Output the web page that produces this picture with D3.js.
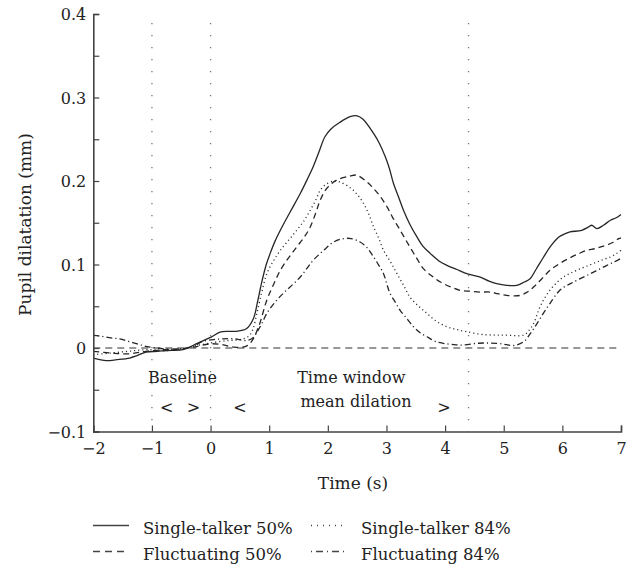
<!DOCTYPE html>
<html><head><meta charset="utf-8">
<script src="https://cdn.jsdelivr.net/npm/d3@7"></script>
<style>
body{margin:0;background:#fff;}
svg text{font-family:"DejaVu Serif","Liberation Serif",serif;fill:#222;}
</style></head>
<body><svg id="c" width="637" height="566"></svg>
<script>
// ---- data ----
const xTicks = [-2,-1,0,1,2,3,4,5,6,7];
const yTicks = [-0.1,0,0.1,0.2,0.3,0.4];
const yMinorTicks = [-0.05,0.05,0.15,0.25,0.35];
const markerLines = [-1,0,4.4];
const seriesNames = ["Single-talker 50%","Single-talker 84%","Fluctuating 50%","Fluctuating 84%"];

const singleTalker50 = [[-2,-0.012],[-1.78,-0.015],[-1.6,-0.014],[-1.38,-0.012],[-1.25,-0.009],[-1.1,-0.005],[-0.9,-0.004],[-0.75,-0.003],[-0.47,-0.002],[-0.3,0.003],[-0.15,0.008],[0.01,0.013],[0.16,0.019],[0.3,0.02],[0.44,0.02],[0.61,0.023],[0.73,0.035],[0.8,0.055],[0.87,0.078],[0.95,0.1],[1.015,0.113],[1.1,0.128],[1.19,0.141],[1.35,0.162],[1.53,0.185],[1.65,0.202],[1.75,0.217],[1.85,0.235],[1.95,0.253],[2.05,0.262],[2.2,0.27],[2.38,0.277],[2.5,0.278],[2.6,0.274],[2.78,0.257],[2.88,0.245],[2.98,0.229],[3.05,0.215],[3.12,0.197],[3.2,0.182],[3.29,0.165],[3.4,0.148],[3.52,0.133],[3.62,0.122],[3.75,0.113],[3.9,0.104],[4.03,0.099],[4.2,0.094],[4.37,0.089],[4.6,0.085],[4.75,0.08],[4.88,0.077],[5.05,0.075],[5.22,0.075],[5.35,0.079],[5.45,0.083],[5.55,0.094],[5.68,0.109],[5.8,0.122],[5.94,0.133],[6.05,0.137],[6.13,0.139],[6.33,0.141],[6.45,0.145],[6.5,0.147],[6.59,0.143],[6.7,0.147],[6.82,0.153],[6.92,0.156],[7.0,0.160]];

const fluctuating50 = [[-2,-0.004],[-1.7,-0.006],[-1.4,-0.007],[-1.1,-0.004],[-0.8,-0.002],[-0.5,-0.001],[-0.3,0.001],[0,0.005],[0.2,0.004],[0.4,0.001],[0.6,0.002],[0.7,0.008],[0.82,0.0255],[0.96,0.0575],[1.08,0.077],[1.19,0.093],[1.33,0.108],[1.47,0.121],[1.6,0.133],[1.7,0.145],[1.8,0.163],[1.87,0.177],[1.98,0.191],[2.15,0.201],[2.38,0.206],[2.49,0.207],[2.65,0.2],[2.78,0.191],[2.9,0.181],[3.01,0.169],[3.1,0.157],[3.2,0.145],[3.3,0.133],[3.4,0.121],[3.52,0.107],[3.63,0.095],[3.78,0.086],[3.92,0.079],[4.1,0.073],[4.26,0.069],[4.43,0.068],[4.6,0.067],[4.77,0.067],[4.9,0.065],[5.05,0.063],[5.28,0.063],[5.4,0.067],[5.51,0.073],[5.65,0.083],[5.79,0.093],[5.95,0.101],[6.13,0.108],[6.28,0.113],[6.42,0.117],[6.56,0.119],[6.7,0.122],[6.85,0.126],[6.96,0.131],[7,0.132]];

const singleTalker84 = [[-2,-0.008],[-1.7,-0.006],[-1.4,-0.004],[-1.1,-0.002],[-0.8,-0.003],[-0.5,-0.002],[-0.3,0.002],[0,0.006],[0.3,0.009],[0.5,0.01],[0.65,0.014],[0.72,0.022],[0.79,0.0415],[0.87,0.066],[0.96,0.089],[1.07,0.104],[1.19,0.117],[1.33,0.129],[1.47,0.141],[1.6,0.153],[1.7,0.165],[1.8,0.178],[1.87,0.189],[1.97,0.196],[2.1,0.2],[2.2,0.199],[2.38,0.192],[2.5,0.184],[2.61,0.173],[2.7,0.16],[2.78,0.145],[2.87,0.131],[2.95,0.117],[3.07,0.103],[3.18,0.089],[3.3,0.074],[3.4,0.061],[3.55,0.05],[3.69,0.0415],[3.85,0.032],[4.03,0.0255],[4.2,0.022],[4.37,0.0195],[4.6,0.0165],[4.8,0.0155],[5.0,0.0155],[5.34,0.0155],[5.43,0.021],[5.51,0.0295],[5.62,0.0495],[5.7,0.06],[5.79,0.0695],[5.9,0.078],[6.02,0.085],[6.15,0.09],[6.31,0.095],[6.45,0.099],[6.59,0.103],[6.7,0.106],[6.82,0.109],[6.92,0.113],[7.0,0.117]];

const fluctuating84 = [[-2,0.015],[-1.85,0.014],[-1.7,0.012],[-1.55,0.011],[-1.4,0.008],[-1.25,0.005],[-1.1,0.002],[-0.8,-0.001],[-0.5,-0.001],[-0.3,0.002],[-0.13,0.008],[0.05,0.01],[0.2,0.011],[0.4,0.011],[0.6,0.009],[0.72,0.012],[0.8,0.02],[0.88,0.03],[0.96,0.0415],[1.1,0.055],[1.24,0.0655],[1.4,0.076],[1.53,0.085],[1.65,0.096],[1.75,0.105],[1.93,0.117],[2.1,0.127],[2.27,0.131],[2.4,0.131],[2.55,0.127],[2.67,0.12],[2.78,0.109],[2.87,0.099],[2.95,0.089],[3.0,0.078],[3.06,0.0655],[3.15,0.055],[3.23,0.0455],[3.35,0.035],[3.46,0.0255],[3.58,0.018],[3.69,0.0135],[3.83,0.008],[3.97,0.0056],[4.15,0.004],[4.31,0.0036],[4.54,0.0056],[4.7,0.006],[4.88,0.0056],[5.05,0.004],[5.17,0.003],[5.34,0.0075],[5.45,0.017],[5.57,0.0295],[5.68,0.042],[5.79,0.0535],[5.96,0.0695],[6.08,0.075],[6.19,0.079],[6.33,0.084],[6.48,0.089],[6.62,0.094],[6.76,0.099],[6.88,0.103],[6.99,0.107]];

// ---- drawing ----
const FONT = '"DejaVu Serif","Liberation Serif",serif';
const svg = d3.select("#c");
const L = 93.3, R = 621, T = 14, B = 431.5;
const x = d3.scaleLinear().domain([-2,7]).range([L,R]);
const y = d3.scaleLinear().domain([-0.1,0.4]).range([B,T]);
const axisColor = "#444";
const fmt = v => (v<0 ? "\u2212" : "") + Math.abs(v).toString();

// vertical dotted marker lines
svg.selectAll(".vm").data(markerLines).enter().append("line")
  .attr("x1",d=>x(d)).attr("x2",d=>x(d)).attr("y1",23).attr("y2",B)
  .attr("stroke","#777").attr("stroke-width",1.3).attr("stroke-dasharray","1.3,10.7");

// zero reference line
svg.append("line").attr("x1",x(-2)).attr("x2",x(7)).attr("y1",y(0)).attr("y2",y(0))
  .attr("stroke","#777").attr("stroke-width",1.6).attr("stroke-dasharray","7,5");

// curves
const line = d3.line().x(d=>x(d[0])).y(d=>y(d[1])).curve(d3.curveCatmullRom.alpha(0.5));
const styles = [
  {data:singleTalker50, dash:null},
  {data:singleTalker84, dash:"1.1,3"},
  {data:fluctuating50, dash:"6,4"},
  {data:fluctuating84, dash:"6,3,1.2,3"}
];
styles.forEach(s=>{
  svg.append("path").attr("d",line(s.data)).attr("fill","none")
    .attr("stroke","#262626").attr("stroke-width",1.3)
    .attr("stroke-dasharray",s.dash);
});

// axes
const yAxis = svg.append("g").attr("transform",`translate(${L},0)`)
  .call(d3.axisLeft(y).tickValues(yTicks).tickSize(-6).tickPadding(7).tickFormat(fmt));
const xAxis = svg.append("g").attr("transform",`translate(0,${B})`)
  .call(d3.axisBottom(x).tickValues(xTicks).tickSize(-6).tickPadding(11).tickFormat(fmt));
svg.append("g").attr("transform",`translate(${L},0)`)
  .call(d3.axisLeft(y).tickValues(yMinorTicks).tickSize(-6).tickFormat(""))
  .select(".domain").remove();
[yAxis,xAxis].forEach(g=>{
  g.select(".domain").attr("stroke",axisColor).attr("stroke-width",1.6);
  g.selectAll(".tick text").style("font-family",FONT).style("font-size","16px").attr("fill","#222");
});
svg.selectAll(".tick line").attr("stroke",axisColor).attr("stroke-width",1.2);
yAxis.selectAll(".tick text").attr("dy","0.36em");
xAxis.selectAll(".tick text").attr("dy","0.72em");

// axis titles
svg.append("text").attr("x",353).attr("y",489).attr("text-anchor","middle")
  .style("font-size","17px").text("Time (s)");
svg.append("text").attr("transform",`translate(31,224.5) rotate(-90)`)
  .attr("text-anchor","middle").style("font-size","17px").text("Pupil dilatation (mm)");

// annotations
const ann = [
  {t:-0.48, v:-0.042, s:"Baseline"},
  {t:-0.748, v:-0.078, s:"<"},
  {t:-0.294, v:-0.078, s:">"},
  {t:0.502, v:-0.078, s:"<"},
  {t:2.4, v:-0.042, s:"Time window"},
  {t:2.48, v:-0.0707, s:"mean dilation"},
  {t:3.98, v:-0.078, s:">"}
];
svg.selectAll(".ann").data(ann).enter().append("text")
  .attr("x",d=>x(d.t)).attr("y",d=>y(d.v)).attr("text-anchor","middle")
  .style("font-size","16px").text(d=>d.s);

// legend
const leg = [
  {name:seriesNames[0], dash:null, lx:93, ty:534},
  {name:seriesNames[1], dash:"1,5", lx:311, ty:534},
  {name:seriesNames[2], dash:"7,5", lx:93, ty:560},
  {name:seriesNames[3], dash:"1,4,7,4", lx:311, ty:560}
];
leg.forEach(d=>{
  svg.append("line").attr("x1",d.lx).attr("x2",d.lx+36).attr("y1",d.ty-8.5).attr("y2",d.ty-8.5)
    .attr("stroke","#444").attr("stroke-width",1.3).attr("stroke-dasharray",d.dash);
  svg.append("text").attr("x",d.lx+50).attr("y",d.ty).style("font-size","16.5px").text(d.name);
});
</script></body></html>
